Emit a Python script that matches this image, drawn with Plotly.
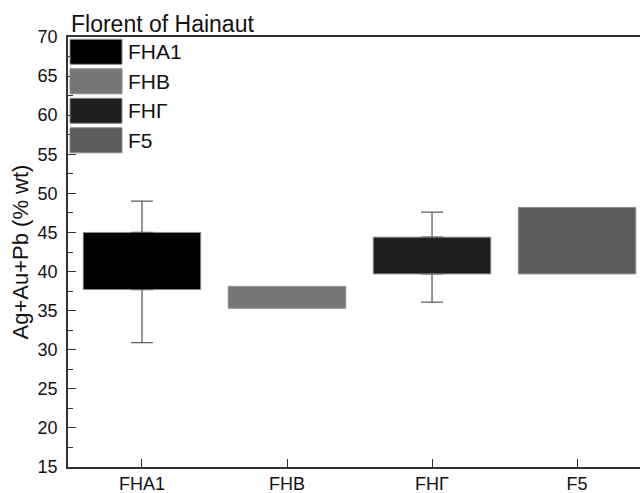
import plotly.graph_objects as go

categories = ["FHA1", "FHB", "FHΓ", "F5"]
box_low = [37.7, 35.3, 39.7, 39.7]
box_high = [45.0, 38.1, 44.4, 48.2]
colors = ["#000000", "#767676", "#1f1f1f", "#5b5b5b"]
whisker_cats = ["FHA1", "FHΓ"]
whisker_low = [30.9, 36.1]
whisker_high = [49.0, 47.6]
y_ticks = [15, 20, 25, 30, 35, 40, 45, 50, 55, 60, 65, 70]

FONT = "Liberation Sans, Arial, sans-serif"

fig = go.Figure()

fig.add_trace(go.Bar(
    x=categories,
    y=[h - l for l, h in zip(box_low, box_high)],
    base=box_low,
    width=0.81,
    marker=dict(color=colors, line=dict(color="#8a8a8a", width=1)),
    showlegend=False,
))

# whiskers: upper part from box top, lower part from box bottom
box_of = dict(zip(categories, zip(box_low, box_high)))
w_top_base = [box_of[c][1] for c in whisker_cats]
w_bot_base = [box_of[c][0] for c in whisker_cats]
fig.add_trace(go.Scatter(
    x=whisker_cats, y=w_top_base, mode="markers",
    marker=dict(size=1, opacity=0),
    error_y=dict(type="data", symmetric=False,
                 array=[h - b for h, b in zip(whisker_high, w_top_base)],
                 arrayminus=[0] * len(whisker_cats),
                 visible=True, color="#5e5e5e", thickness=1.3, width=11),
    showlegend=False, hoverinfo="skip",
))
fig.add_trace(go.Scatter(
    x=whisker_cats, y=w_bot_base, mode="markers",
    marker=dict(size=1, opacity=0),
    error_y=dict(type="data", symmetric=False,
                 array=[0] * len(whisker_cats),
                 arrayminus=[b - l for l, b in zip(whisker_low, w_bot_base)],
                 visible=True, color="#5e5e5e", thickness=1.3, width=11),
    showlegend=False, hoverinfo="skip",
))

# manual legend (large swatches like the original)
pw, ph = 572, 430
shapes = []
annotations = []
for i, (cat, col) in enumerate(zip(categories, colors)):
    top_px = 39 + i * 29.5
    y1 = (466.7 - top_px) / ph
    y0 = (466.7 - top_px - 25) / ph
    shapes.append(dict(type="rect", xref="paper", yref="paper",
                       x0=2 / pw, x1=54 / pw, y0=y0, y1=y1,
                       fillcolor=col, line=dict(color="#8a8a8a", width=1)))
    annotations.append(dict(xref="paper", yref="paper", x=58 / pw,
                            y=(y0 + y1) / 2, text=cat, showarrow=False,
                            xanchor="left", yanchor="middle",
                            font=dict(family=FONT, size=21, color="#111")))

annotations.append(dict(xref="paper", yref="paper", x=0.0, y=1.0,
                        text="Florent of Hainaut", showarrow=False,
                        xanchor="left", yanchor="bottom", yshift=-2, xshift=1,
                        font=dict(family=FONT, size=23, color="#111")))

fig.update_layout(
    width=640, height=493,
    margin=dict(l=68, r=0, t=37, b=26, autoexpand=False),
    plot_bgcolor="white", paper_bgcolor="white",
    font=dict(family=FONT, size=18, color="#111"),
    shapes=shapes, annotations=annotations,
    showlegend=False,
    xaxis=dict(categoryorder="array", categoryarray=categories),
)
fig.update_xaxes(
    range=[-0.51, 3.434], showline=True, linecolor="#333", linewidth=1.5,
    mirror=True, ticks="inside", ticklen=8, tickcolor="#333",
    tickfont=dict(size=18), showgrid=False, zeroline=False, automargin=False,
)
fig.update_yaxes(
    range=[15, 70], tickvals=y_ticks, showline=True, linecolor="#333",
    linewidth=1.5, ticks="inside", ticklen=8, tickcolor="#333",
    minor=dict(dtick=2.5, ticks="inside", ticklen=5, tickcolor="#333"),
    showgrid=False, zeroline=False, automargin=False,
    tickfont=dict(size=18), ticklabelstandoff=5,
    title=dict(text="Ag+Au+Pb (% wt)", font=dict(size=22), standoff=3),
)

fig.write_html("out.html", config={"displayModeBar": False},
               post_script="document.body.style.margin='0';")
